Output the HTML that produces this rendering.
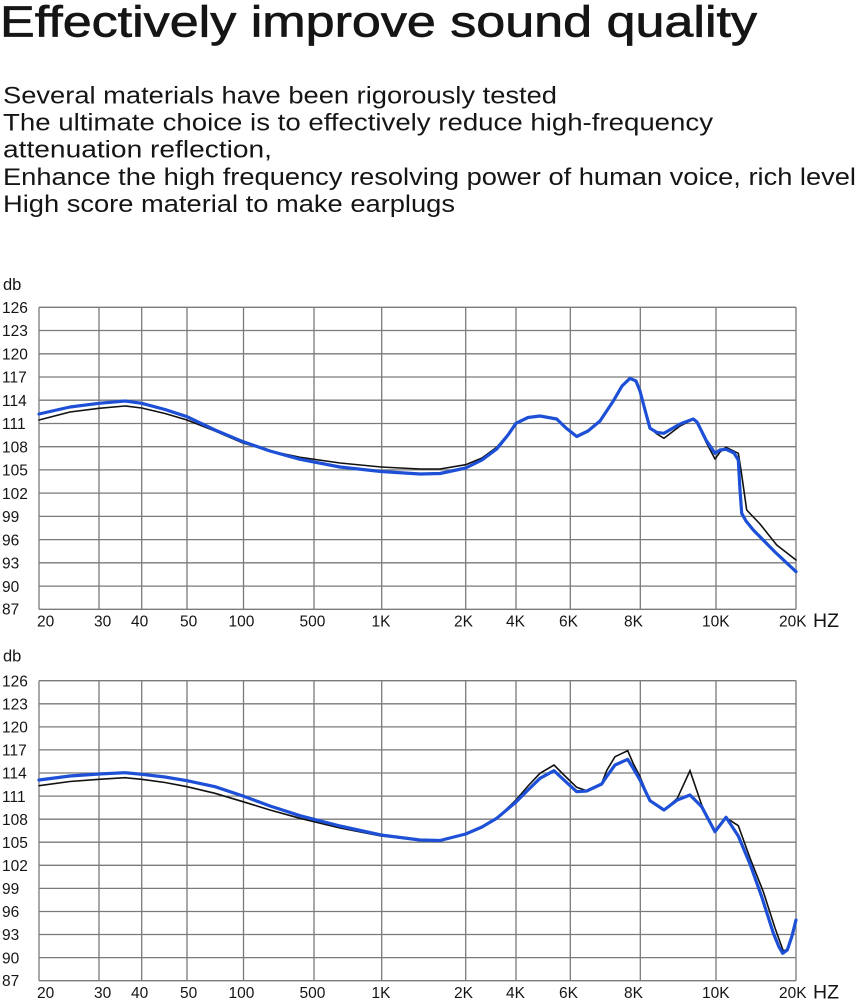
<!DOCTYPE html>
<html><head><meta charset="utf-8"><style>
html,body{margin:0;padding:0;background:#fff;}
svg{display:block;}
text{font-family:"Liberation Sans",sans-serif;fill:#151515;}
</style></head><body>
<svg width="857" height="1000" viewBox="0 0 857 1000" xmlns="http://www.w3.org/2000/svg">
<rect width="857" height="1000" fill="#fff"/>
<text x="0" y="36.7" font-size="44" textLength="757" lengthAdjust="spacingAndGlyphs" stroke="#151515" stroke-width="0.7">Effectively improve sound quality</text>
<g font-size="24">
<text x="3" y="103.3" textLength="554" lengthAdjust="spacingAndGlyphs">Several materials have been rigorously tested</text>
<text x="3" y="130.3" textLength="710" lengthAdjust="spacingAndGlyphs">The ultimate choice is to effectively reduce high-frequency</text>
<text x="3" y="157.5" textLength="269" lengthAdjust="spacingAndGlyphs">attenuation reflection,</text>
<text x="3" y="185" textLength="853" lengthAdjust="spacingAndGlyphs">Enhance the high frequency resolving power of human voice, rich level</text>
<text x="3" y="211.8" textLength="452" lengthAdjust="spacingAndGlyphs">High score material to make earplugs</text>
</g>

<!-- Chart 1 -->
<g stroke="#7a7a7a" stroke-width="1.3" fill="none">
<path d="M39 307.3H796M39 330.5H796M39 353.8H796M39 377H796M39 400.2H796M39 423.5H796M39 446.7H796M39 469.9H796M39 493.1H796M39 516.4H796M39 539.6H796M39 562.8H796M39 586.1H796M39 609.3H796"/>
<path d="M39 307.3V609.3M99 307.3V609.3M141.7 307.3V609.3M187 307.3V609.3M243.5 307.3V609.3M314 307.3V609.3M381.7 307.3V609.3M465.7 307.3V609.3M516 307.3V609.3M570.3 307.3V609.3M640.3 307.3V609.3M716 307.3V609.3M796 307.3V609.3"/>
</g>
<text x="3" y="290" font-size="16.5">db</text>
<g font-size="15.5">
<text x="2" y="313">126</text><text x="2" y="336.2">123</text><text x="2" y="359.5">120</text><text x="2" y="382.7">117</text><text x="2" y="405.9">114</text><text x="2" y="429.2">111</text><text x="2" y="452.4">108</text><text x="2" y="475.6">105</text><text x="2" y="498.8">102</text><text x="2" y="522.1">99</text><text x="2" y="545.3">96</text><text x="2" y="568.5">93</text><text x="2" y="591.8">90</text><text x="2" y="614.5">87</text>
</g>
<g font-size="15.5">
<text x="37" y="626.7">20</text><text x="94" y="626.7">30</text><text x="131" y="626.7">40</text><text x="180" y="626.7">50</text><text x="228.5" y="626.7">100</text><text x="299.5" y="626.7">500</text><text x="371.5" y="626.7">1K</text><text x="454" y="626.7">2K</text><text x="506" y="626.7">4K</text><text x="559" y="626.7">6K</text><text x="624" y="626.7">8K</text><text x="702" y="626.7">10K</text><text x="779" y="626.7">20K</text>
</g>
<text x="813" y="627" font-size="19.5">HZ</text>
<polyline fill="none" stroke="#111" stroke-width="1.6" stroke-linejoin="round" stroke-linecap="round" points="39,420 70,412 99,408.3 125,406 141.7,408 165,413.5 187,420 215,431 243,443 270,451 300,457.3 340,463 381,467 420,469 440,469 465.7,464.7 482,458 496.7,447.3 508,434 516,423.3 528,418 540,416 556.7,419 566,428 576.7,436.5 588,431 600,421 613.3,401 622,386 630,378.3 636,381 640,391 645,410 650,428.3 657,434 664,438.3 680,426 693.3,419.3 697,421.7 706,442 715,459 720,452 726,447.3 738.3,453.3 741,470 746.7,510 760,524 776.7,545 796,560"/>
<polyline fill="none" stroke="#1d50d6" stroke-width="3.2" stroke-linejoin="round" stroke-linecap="round" points="39,414 70,407 99,403.3 125,401 141.7,403.3 165,409.5 187,416.7 215,430 243,441.7 270,451 300,459.3 340,467 381,471.5 420,474 440,473.5 465.7,468 482,460 496.7,449 508,435 516,423.3 528,417.5 540,416 556.7,419 566,428 576.7,436.5 588,431 600,421 613.3,401 622,386 630,378.3 636,381 640,391 645,410 650,428.3 657,432.5 664,433.3 680,424 693.3,419 697,422 706,440 715,453.3 720,450 726,449.3 734,453 738.3,460 740,490 741.7,513.3 746,521 753.3,530 775,552 796,571.7"/>

<!-- Chart 2 -->
<g stroke="#7a7a7a" stroke-width="1.3" fill="none">
<path d="M39 680.7H796M39 703.8H796M39 726.9H796M39 749.9H796M39 773H796M39 796.1H796M39 819.2H796M39 842.2H796M39 865.3H796M39 888.4H796M39 911.5H796M39 934.5H796M39 957.6H796M39 980.7H796"/>
<path d="M39 680.7V980.7M99 680.7V980.7M141.7 680.7V980.7M187 680.7V980.7M243.5 680.7V980.7M314 680.7V980.7M381.7 680.7V980.7M465.7 680.7V980.7M516 680.7V980.7M570.3 680.7V980.7M640.3 680.7V980.7M716 680.7V980.7M796 680.7V980.7"/>
</g>
<text x="3" y="661.7" font-size="16.5">db</text>
<g font-size="15.5">
<text x="2" y="686.4">126</text><text x="2" y="709.5">123</text><text x="2" y="732.6">120</text><text x="2" y="755.6">117</text><text x="2" y="778.7">114</text><text x="2" y="801.8">111</text><text x="2" y="824.9">108</text><text x="2" y="847.9">105</text><text x="2" y="871">102</text><text x="2" y="894.1">99</text><text x="2" y="917.2">96</text><text x="2" y="940.2">93</text><text x="2" y="963.3">90</text><text x="2" y="986">87</text>
</g>
<g font-size="15.5">
<text x="37" y="998.2">20</text><text x="94" y="998.2">30</text><text x="131" y="998.2">40</text><text x="180" y="998.2">50</text><text x="228.5" y="998.2">100</text><text x="299.5" y="998.2">500</text><text x="371.5" y="998.2">1K</text><text x="454" y="998.2">2K</text><text x="506" y="998.2">4K</text><text x="559" y="998.2">6K</text><text x="624" y="998.2">8K</text><text x="702" y="998.2">10K</text><text x="779" y="998.2">20K</text>
</g>
<text x="813" y="998.5" font-size="19.5">HZ</text>
<polyline fill="none" stroke="#111" stroke-width="1.6" stroke-linejoin="miter" stroke-linecap="round" points="39,785.7 70,781.5 99,779.3 125,777.7 141.7,779.3 165,782.5 187,786.7 215,793.3 243,801.7 270,810 300,818.3 340,828 381,836 420,840.3 440,840.5 465.7,834 482,827 496.7,818.3 516,800 528,786 540,773.3 554,765 565,776 576.7,787.3 586.7,790.7 601.7,783.3 607,770 615,756.7 627.7,750.7 633,763 640,776.7 650,800.7 664,810 677.3,798.3 690,770.7 701.7,805 715,831.7 726,817.7 738.3,825.7 750,858 763.3,891.7 775,928 783.3,951 788,949 796,921"/>
<polyline fill="none" stroke="#1d50d6" stroke-width="3.2" stroke-linejoin="round" stroke-linecap="round" points="39,780 70,776 99,774 125,772.7 141.7,774.3 165,777 187,780.7 215,786.7 243,796 270,806 300,815.7 340,826 381,835 420,840 440,840.5 465.7,834 482,827 496.7,818.3 516,802 528,790 540,778.3 554,770.7 565,781 576.7,791.7 586.7,791 601.7,784 607,776 615,765 627.7,759.3 633,768 640,780 650,800.7 664,810 677.3,800 690,795 701.7,806.7 715,831.7 726,817.3 738.3,836 750,864 761.7,896.7 773.3,933 779,947 782.7,953.3 787.3,950 792,936 796,920"/>
</svg>
</body></html>
